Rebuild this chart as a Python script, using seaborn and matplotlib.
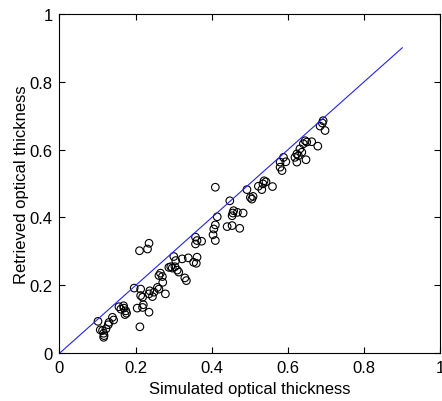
import matplotlib
matplotlib.use("Agg")
import matplotlib.pyplot as plt
import seaborn as sns
import pandas as pd

# simulated vs retrieved optical thickness
simulated = [
    0.101, 0.107, 0.113, 0.116, 0.117, 0.116, 0.122, 0.128, 0.130, 0.139,
    0.142, 0.156, 0.161, 0.169, 0.174, 0.176, 0.172, 0.168, 0.211, 0.235,
    0.204, 0.218, 0.220, 0.196, 0.213, 0.213, 0.218, 0.237, 0.248, 0.244,
    0.235, 0.261, 0.210, 0.231, 0.235, 0.300, 0.305, 0.322, 0.338, 0.361,
    0.359, 0.352, 0.287, 0.292, 0.296, 0.303, 0.309, 0.313, 0.265, 0.270,
    0.261, 0.329, 0.333, 0.271, 0.257, 0.278, 0.357, 0.361, 0.373, 0.357,
    0.409, 0.447, 0.414, 0.405, 0.409, 0.403, 0.409, 0.440, 0.453, 0.473,
    0.457, 0.453, 0.467, 0.482, 0.455, 0.492, 0.501, 0.508, 0.505, 0.522,
    0.531, 0.537, 0.542, 0.534, 0.559, 0.645, 0.649, 0.640, 0.662, 0.678,
    0.631, 0.636, 0.623, 0.618, 0.627, 0.647, 0.623, 0.588, 0.579, 0.594,
    0.579, 0.584, 0.692, 0.690, 0.684, 0.697,
]
retrieved = [
    0.094, 0.069, 0.067, 0.059, 0.052, 0.047, 0.072, 0.084, 0.091, 0.106,
    0.098, 0.137, 0.130, 0.133, 0.125, 0.118, 0.114, 0.140, 0.078, 0.121,
    0.133, 0.135, 0.143, 0.192, 0.189, 0.170, 0.165, 0.184, 0.180, 0.167,
    0.175, 0.189, 0.302, 0.307, 0.324, 0.285, 0.273, 0.278, 0.281, 0.283,
    0.265, 0.268, 0.253, 0.255, 0.251, 0.255, 0.245, 0.239, 0.236, 0.226,
    0.229, 0.222, 0.214, 0.209, 0.194, 0.175, 0.342, 0.332, 0.330, 0.322,
    0.489, 0.449, 0.402, 0.366, 0.378, 0.349, 0.332, 0.373, 0.376, 0.368,
    0.420, 0.405, 0.415, 0.413, 0.413, 0.482, 0.459, 0.462, 0.454, 0.492,
    0.482, 0.508, 0.505, 0.499, 0.491, 0.626, 0.622, 0.617, 0.623, 0.610,
    0.602, 0.592, 0.587, 0.577, 0.582, 0.570, 0.563, 0.577, 0.563, 0.564,
    0.548, 0.538, 0.685, 0.678, 0.669, 0.656,
]

# reference 1:1 line
line_x = [0.0, 0.9]
line_y = [0.0, 0.9]

ticks = [0, 0.2, 0.4, 0.6, 0.8, 1]
tick_labels = ["0", "0.2", "0.4", "0.6", "0.8", "1"]

df = pd.DataFrame({"sim": simulated, "ret": retrieved})

sns.set_style("ticks")
plt.rcParams["font.family"] = ["Liberation Sans", "DejaVu Sans"]

fig = plt.figure(figsize=(4.42, 4.02), dpi=100)
ax = fig.add_axes([0.1346, 0.1187, 0.862, 0.8447])

sns.lineplot(x=line_x, y=line_y, color="#2222ff", linewidth=0.8, ax=ax)
sns.scatterplot(data=df, x="sim", y="ret", marker="o", s=30,
                facecolors="none", edgecolor="black", linewidth=0.8, ax=ax)

ax.set_xlim(0, 1)
ax.set_ylim(0, 1)
ax.set_xticks(ticks)
ax.set_xticklabels(tick_labels)
ax.set_yticks(ticks)
ax.set_yticklabels(tick_labels)
ax.tick_params(direction="in", top=True, right=True, length=4,
               width=0.8, labelsize=12, colors="black", pad=5)
for side in ax.spines.values():
    side.set_visible(True)
    side.set_linewidth(0.8)
    side.set_color("black")

ax.set_xlabel("Simulated optical thickness", fontsize=12, labelpad=4,
              color="black")
ax.set_ylabel("Retrieved optical thickness", fontsize=12, color="black")
ax.yaxis.set_label_coords(-0.08, 0.5)

fig.savefig("out.png", dpi=100)
